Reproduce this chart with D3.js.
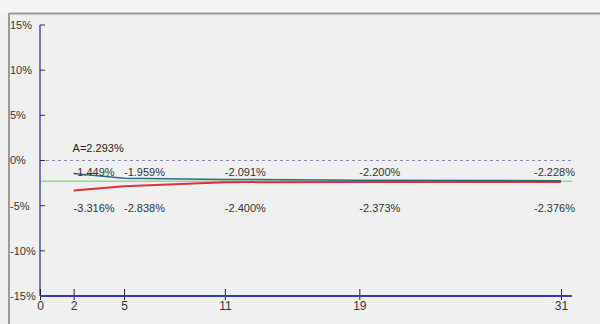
<!DOCTYPE html>
<html>
<head>
<meta charset="utf-8">
<script src="https://cdn.jsdelivr.net/npm/d3@7"></script>
<style>
  html, body { margin: 0; padding: 0; background: #f0f0f0; }
  svg { display: block; font-family: "Liberation Sans", Arial, sans-serif; }
</style>
</head>
<body>
<div id="chart"></div>
<script>
//periods along the x axis and the two running series (in %)
var periods = [2, 5, 11, 19, 31];
var upperValues = [-1.449, -1.959, -2.091, -2.200, -2.228];
var lowerValues = [-3.316, -2.838, -2.400, -2.373, -2.376];
var average = -2.293;
var xTicks = [0, 2, 5, 11, 19, 31];
var yTicks = [15, 10, 5, 0, -5, -10, -15];

var width = 600;
var height = 324;

var svg = d3.select("#chart")
  .append("svg")
  .attr("width", width)
  .attr("height", height);

//panel frame (top and left edges)
svg.append("rect").attr("x", 0).attr("y", 0).attr("width", width).attr("height", 13).attr("fill", "#f5f5f5");
svg.append("line").attr("x1", 9).attr("x2", width).attr("y1", 13.5).attr("y2", 13.5)
  .attr("stroke", "#9a9a9a").attr("stroke-width", 2);
svg.append("line").attr("x1", 9).attr("x2", 9).attr("y1", 13).attr("y2", height)
  .attr("stroke", "#9a9a9a").attr("stroke-width", 2);

var x = d3.scaleLinear().domain([0, 31]).range([40, 561]);
var y = d3.scaleLinear().domain([-15, 15]).range([296, 25]);
var xEnd = 572;

//zero line (dashed) and the average line
svg.append("line")
  .attr("x1", x(0)).attr("x2", xEnd)
  .attr("y1", y(0)).attr("y2", y(0))
  .attr("stroke", "#8888bb").attr("stroke-dasharray", "3,3");

svg.append("line")
  .attr("x1", x(0)).attr("x2", xEnd)
  .attr("y1", y(average)).attr("y2", y(average))
  .attr("stroke", "#8fdc8f").attr("stroke-width", 1.5);

var line = d3.line()
  .x(d => x(d[0]))
  .y(d => y(d[1]));

svg.append("path")
  .datum(d3.zip(periods, lowerValues))
  .attr("d", line)
  .attr("fill", "none")
  .attr("stroke", "#e0303c")
  .attr("stroke-width", 2);

svg.append("path")
  .datum(d3.zip(periods, upperValues))
  .attr("d", line)
  .attr("fill", "none")
  .attr("stroke", "#1f5a7a")
  .attr("stroke-width", 1.5)
  .attr("stroke-opacity", 0.9);

//value labels, left aligned at their period, last one pulled inside
function labelX(p) {
  return Math.min(x(p), 534);
}

svg.append("g")
  .selectAll("text")
  .data(d3.zip(periods, upperValues))
  .enter().append("text")
    .attr("x", d => labelX(d[0]))
    .attr("y", y(-1.3))
    .attr("dy", "0.35em")
    .attr("font-size", 11)
    .attr("fill", "#333")
    .text(d => d[1].toFixed(3) + "%");

svg.append("g")
  .selectAll("text")
  .data(d3.zip(periods, lowerValues))
  .enter().append("text")
    .attr("x", d => labelX(d[0]))
    .attr("y", y(-5.3))
    .attr("dy", "0.35em")
    .attr("font-size", 11)
    .attr("fill", "#333")
    .text(d => d[1].toFixed(3) + "%");

svg.append("text")
  .attr("x", x(2) - 1)
  .attr("y", y(1.35))
  .attr("dy", "0.35em")
  .attr("font-size", 11)
  .attr("fill", "#222")
  .text("A=" + Math.abs(average).toFixed(3) + "%");

//y axis: blue line, short ticks to the right, labels at the panel edge
var yAxis = svg.append("g");
yAxis.append("line")
  .attr("x1", x(0)).attr("x2", x(0))
  .attr("y1", y(15)).attr("y2", y(-15))
  .attr("stroke", "#4a4ac8").attr("stroke-width", 1.5);
yAxis.selectAll(".tick")
  .data(yTicks)
  .enter().append("line")
    .attr("x1", x(0)).attr("x2", x(0) + 5)
    .attr("y1", d => y(d)).attr("y2", d => y(d))
    .attr("stroke", "#333");
yAxis.selectAll("text")
  .data(yTicks)
  .enter().append("text")
    .attr("x", 10)
    .attr("y", d => y(d))
    .attr("dy", "0.35em")
    .attr("font-size", 11)
    .attr("fill", "#333")
    .text(d => d + "%");

//x axis at the bottom of the range
var xAxis = svg.append("g")
  .attr("transform", "translate(0," + y(-15) + ")")
  .call(d3.axisBottom(x).tickValues(xTicks).tickSize(4).tickFormat(d3.format("d")));
xAxis.select(".domain").remove();
xAxis.selectAll(".tick line")
  .attr("y1", -7).attr("y2", 4)
  .attr("stroke", "#222");
xAxis.selectAll(".tick text")
  .attr("y", 5)
  .attr("font-size", 12)
  .attr("font-family", "Liberation Sans, Arial, sans-serif")
  .attr("fill", "#333");
xAxis.append("line")
  .attr("x1", x(0)).attr("x2", xEnd)
  .attr("y1", 0).attr("y2", 0)
  .attr("stroke", "#3a3ab4").attr("stroke-width", 2);
</script>
</body>
</html>
